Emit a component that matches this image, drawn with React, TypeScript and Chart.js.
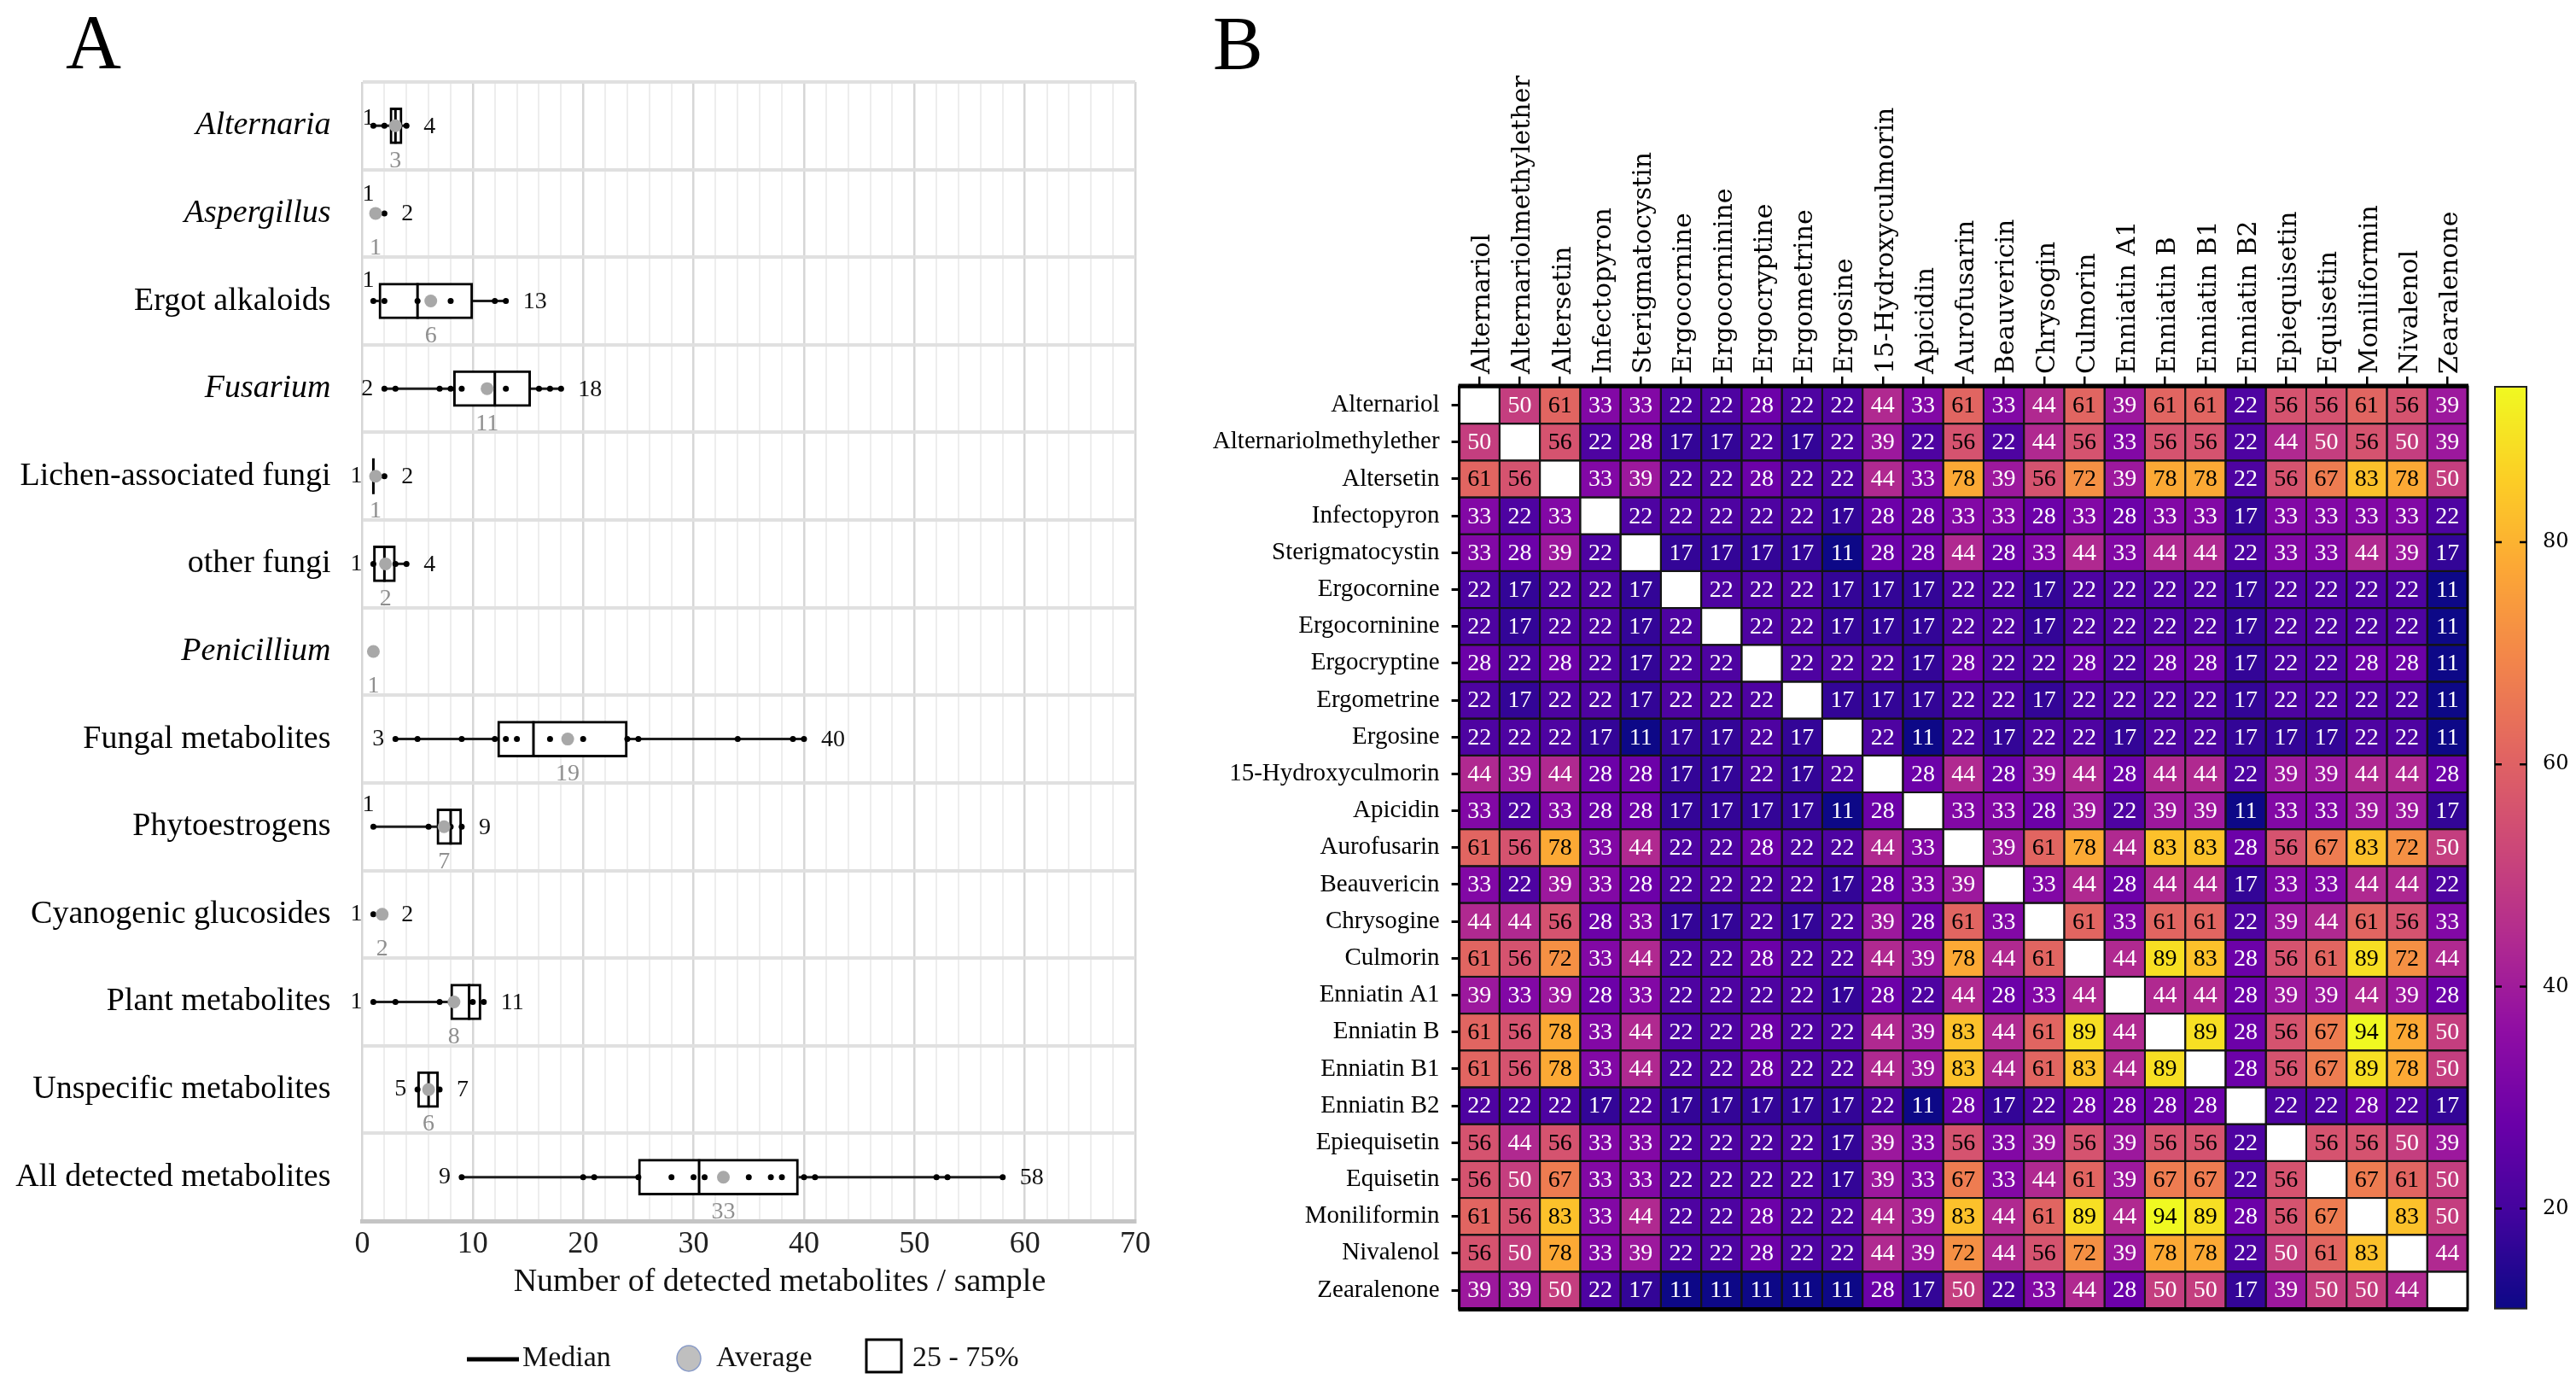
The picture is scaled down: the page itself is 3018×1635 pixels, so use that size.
import React, { useEffect, useRef } from 'react';
import { Chart, registerables } from 'chart.js';

Chart.register(...registerables);

// ---------------- Panel A data ----------------
const categories = [
  'Alternaria', 'Aspergillus', 'Ergot alkaloids', 'Fusarium', 'Lichen-associated fungi',
  'other fungi', 'Penicillium', 'Fungal metabolites', 'Phytoestrogens', 'Cyanogenic glucosides',
  'Plant metabolites', 'Unspecific metabolites', 'All detected metabolites',
];
const italicCategories = [true, true, false, true, false, false, true, false, false, false, false, false, false];
const minValues = [1, 1, 1, 2, 1, 1, 1, 3, 1, 1, 1, 5, 9];
const maxValues = [4, 2, 13, 18, 2, 4, 1, 40, 9, 2, 11, 7, 58];
const q1Values: (number | null)[] = [2.5, null, 1.5, 8.25, 1, 1, null, 12.25, 6.75, null, 8, 5, 25];
const medianValues: (number | null)[] = [3, null, 5, 12, 1, 2, null, 15.5, 8, null, 9.67, 6, 30.5];
const q3Values: (number | null)[] = [3.6, null, 10, 15.25, 1, 3, null, 24, 9, null, 10.75, 6.9, 39.5];
const averageValues = [3.0, 1.2, 6.2, 11.3, 1.2, 2.1, 1.0, 18.6, 7.4, 1.8, 8.3, 6.0, 32.7];
const sampleValues: number[][] = [
  [1, 2, 3, 4],
  [1, 2],
  [1, 2, 5, 8, 12, 13],
  [2, 3, 7, 8, 9, 13, 16, 17, 18],
  [1, 2],
  [1, 2, 3, 4],
  [1],
  [3, 5, 9, 12, 13, 14, 17, 20, 24, 25, 34, 39, 40],
  [1, 6, 7, 8, 9],
  [1, 2],
  [1, 3, 7, 8, 10, 11],
  [5, 6, 7],
  [9, 20, 21, 25, 28, 30, 31, 35, 37, 38, 40, 41, 52, 53, 58],
];
const showRangeLabels = [true, true, true, true, true, true, false, true, true, true, true, true, true];

// layout of the min labels (raised above the point or left of it)
const minLabelRaise = [9, 22, 24, 0, 0, 0, 0, 0, 26, 0, 0, 0, 0];

// ---------------- Panel B data ----------------
const rowLabels = [
  'Alternariol', 'Alternariolmethylether', 'Altersetin', 'Infectopyron', 'Sterigmatocystin',
  'Ergocornine', 'Ergocorninine', 'Ergocryptine', 'Ergometrine', 'Ergosine',
  '15-Hydroxyculmorin', 'Apicidin', 'Aurofusarin', 'Beauvericin', 'Chrysogine',
  'Culmorin', 'Enniatin A1', 'Enniatin B', 'Enniatin B1', 'Enniatin B2',
  'Epiequisetin', 'Equisetin', 'Moniliformin', 'Nivalenol', 'Zearalenone',
];
const colLabels = [
  'Alternariol', 'Alternariolmethylether', 'Altersetin', 'Infectopyron', 'Sterigmatocystin',
  'Ergocornine', 'Ergocorninine', 'Ergocryptine', 'Ergometrine', 'Ergosine',
  '15-Hydroxyculmorin', 'Apicidin', 'Aurofusarin', 'Beauvericin', 'Chrysogin',
  'Culmorin', 'Enniatin A1', 'Enniatin B', 'Enniatin B1', 'Enniatin B2',
  'Epiequisetin', 'Equisetin', 'Moniliformin', 'Nivalenol', 'Zearalenone',
];
const _ = null;
const cooccurrence: (number | null)[][] = [
  [_, 50, 61, 33, 33, 22, 22, 28, 22, 22, 44, 33, 61, 33, 44, 61, 39, 61, 61, 22, 56, 56, 61, 56, 39],
  [50, _, 56, 22, 28, 17, 17, 22, 17, 22, 39, 22, 56, 22, 44, 56, 33, 56, 56, 22, 44, 50, 56, 50, 39],
  [61, 56, _, 33, 39, 22, 22, 28, 22, 22, 44, 33, 78, 39, 56, 72, 39, 78, 78, 22, 56, 67, 83, 78, 50],
  [33, 22, 33, _, 22, 22, 22, 22, 22, 17, 28, 28, 33, 33, 28, 33, 28, 33, 33, 17, 33, 33, 33, 33, 22],
  [33, 28, 39, 22, _, 17, 17, 17, 17, 11, 28, 28, 44, 28, 33, 44, 33, 44, 44, 22, 33, 33, 44, 39, 17],
  [22, 17, 22, 22, 17, _, 22, 22, 22, 17, 17, 17, 22, 22, 17, 22, 22, 22, 22, 17, 22, 22, 22, 22, 11],
  [22, 17, 22, 22, 17, 22, _, 22, 22, 17, 17, 17, 22, 22, 17, 22, 22, 22, 22, 17, 22, 22, 22, 22, 11],
  [28, 22, 28, 22, 17, 22, 22, _, 22, 22, 22, 17, 28, 22, 22, 28, 22, 28, 28, 17, 22, 22, 28, 28, 11],
  [22, 17, 22, 22, 17, 22, 22, 22, _, 17, 17, 17, 22, 22, 17, 22, 22, 22, 22, 17, 22, 22, 22, 22, 11],
  [22, 22, 22, 17, 11, 17, 17, 22, 17, _, 22, 11, 22, 17, 22, 22, 17, 22, 22, 17, 17, 17, 22, 22, 11],
  [44, 39, 44, 28, 28, 17, 17, 22, 17, 22, _, 28, 44, 28, 39, 44, 28, 44, 44, 22, 39, 39, 44, 44, 28],
  [33, 22, 33, 28, 28, 17, 17, 17, 17, 11, 28, _, 33, 33, 28, 39, 22, 39, 39, 11, 33, 33, 39, 39, 17],
  [61, 56, 78, 33, 44, 22, 22, 28, 22, 22, 44, 33, _, 39, 61, 78, 44, 83, 83, 28, 56, 67, 83, 72, 50],
  [33, 22, 39, 33, 28, 22, 22, 22, 22, 17, 28, 33, 39, _, 33, 44, 28, 44, 44, 17, 33, 33, 44, 44, 22],
  [44, 44, 56, 28, 33, 17, 17, 22, 17, 22, 39, 28, 61, 33, _, 61, 33, 61, 61, 22, 39, 44, 61, 56, 33],
  [61, 56, 72, 33, 44, 22, 22, 28, 22, 22, 44, 39, 78, 44, 61, _, 44, 89, 83, 28, 56, 61, 89, 72, 44],
  [39, 33, 39, 28, 33, 22, 22, 22, 22, 17, 28, 22, 44, 28, 33, 44, _, 44, 44, 28, 39, 39, 44, 39, 28],
  [61, 56, 78, 33, 44, 22, 22, 28, 22, 22, 44, 39, 83, 44, 61, 89, 44, _, 89, 28, 56, 67, 94, 78, 50],
  [61, 56, 78, 33, 44, 22, 22, 28, 22, 22, 44, 39, 83, 44, 61, 83, 44, 89, _, 28, 56, 67, 89, 78, 50],
  [22, 22, 22, 17, 22, 17, 17, 17, 17, 17, 22, 11, 28, 17, 22, 28, 28, 28, 28, _, 22, 22, 28, 22, 17],
  [56, 44, 56, 33, 33, 22, 22, 22, 22, 17, 39, 33, 56, 33, 39, 56, 39, 56, 56, 22, _, 56, 56, 50, 39],
  [56, 50, 67, 33, 33, 22, 22, 22, 22, 17, 39, 33, 67, 33, 44, 61, 39, 67, 67, 22, 56, _, 67, 61, 50],
  [61, 56, 83, 33, 44, 22, 22, 28, 22, 22, 44, 39, 83, 44, 61, 89, 44, 94, 89, 28, 56, 67, _, 83, 50],
  [56, 50, 78, 33, 39, 22, 22, 28, 22, 22, 44, 39, 72, 44, 56, 72, 39, 78, 78, 22, 50, 61, 83, _, 44],
  [39, 39, 50, 22, 17, 11, 11, 11, 11, 11, 28, 17, 50, 22, 33, 44, 28, 50, 50, 17, 39, 50, 50, 44, _],
];

const allValues = cooccurrence.flat().filter((v) => v != null) as number[];
const colorMin = Math.min(...allValues);
const colorMax = Math.max(...allValues);

// plasma colour map
const PLASMA = ['#0d0887', '#41049d', '#6a00a8', '#8f0da4', '#b12a90', '#cc4778', '#e16462', '#f2844b', '#fca636', '#fcce25', '#f0f921'];
const hexToRgb = (h: string) => [parseInt(h.slice(1, 3), 16), parseInt(h.slice(3, 5), 16), parseInt(h.slice(5, 7), 16)];
const PLASMA_RGB = PLASMA.map(hexToRgb);
function plasma(v: number): string {
  let t = (v - colorMin) / (colorMax - colorMin);
  t = Math.max(0, Math.min(1, t));
  const s = t * (PLASMA_RGB.length - 1);
  const i = Math.min(PLASMA_RGB.length - 2, Math.floor(s));
  const f = s - i;
  const a = PLASMA_RGB[i], b = PLASMA_RGB[i + 1];
  const c = a.map((av, k) => Math.round(av + (b[k] - av) * f));
  return `rgb(${c[0]},${c[1]},${c[2]})`;
}

const SERIF = '"Liberation Serif", "Times New Roman", serif';
const WIDE_SERIF = '"DejaVu Serif", "Liberation Serif", serif';
const BOX_HALF = 21;

const boxPlugin = {
  id: 'boxExtras',
  beforeDatasetsDraw(chart: any) {
    const { ctx } = chart;
    const x = chart.scales.x, y = chart.scales.y;
    ctx.save();
    ctx.strokeStyle = '#1e1e1e';
    ctx.lineWidth = 3;
    categories.forEach((_c, i) => {
      const q1 = q1Values[i], q3 = q3Values[i];
      if (q1 == null || q3 == null) return;
      const py = y.getPixelForValue(i);
      ctx.beginPath();
      if (minValues[i] < q1) {
        ctx.moveTo(x.getPixelForValue(minValues[i]), py);
        ctx.lineTo(x.getPixelForValue(q1), py);
      }
      if (maxValues[i] > q3) {
        ctx.moveTo(x.getPixelForValue(q3), py);
        ctx.lineTo(x.getPixelForValue(maxValues[i]), py);
      }
      ctx.stroke();
    });
    ctx.restore();
  },
  afterDatasetDraw(chart: any, args: any) {
    if (args.index !== 0) return;
    const { ctx } = chart;
    const x = chart.scales.x, y = chart.scales.y;
    ctx.save();
    ctx.strokeStyle = '#000';
    ctx.lineWidth = 3;
    categories.forEach((_c, i) => {
      const m = medianValues[i];
      if (m == null) return;
      const px = x.getPixelForValue(m);
      const py = y.getPixelForValue(i);
      ctx.beginPath();
      ctx.moveTo(px, py - BOX_HALF);
      ctx.lineTo(px, py + BOX_HALF);
      ctx.stroke();
    });
    ctx.restore();
  },
  afterDraw(chart: any) {
    const { ctx, chartArea } = chart;
    const x = chart.scales.x, y = chart.scales.y;
    ctx.save();
    // value labels
    ctx.font = `28px ${SERIF}`;
    ctx.textBaseline = 'middle';
    categories.forEach((_c, i) => {
      const py = y.getPixelForValue(i);
      if (showRangeLabels[i]) {
        ctx.fillStyle = '#111';
        const pmin = x.getPixelForValue(minValues[i]);
        if (minLabelRaise[i] > 0) {
          ctx.textAlign = 'center';
          ctx.fillText(String(minValues[i]), pmin - 6, py - minLabelRaise[i]);
        } else {
          ctx.textAlign = 'right';
          ctx.fillText(String(minValues[i]), pmin - 13, py);
        }
        ctx.textAlign = 'left';
        ctx.fillText(String(maxValues[i]), x.getPixelForValue(maxValues[i]) + 20, py + 1);
      }
      ctx.fillStyle = '#8f8f8f';
      ctx.textAlign = 'center';
      ctx.fillText(String(Math.round(averageValues[i])), x.getPixelForValue(averageValues[i]), py + 41);
    });

    // panel letter
    ctx.fillStyle = '#000';
    ctx.textAlign = 'left';
    ctx.textBaseline = 'alphabetic';
    ctx.font = `90px ${SERIF}`;
    ctx.fillText('A', 77, 80);

    // axis title
    ctx.font = `38px ${SERIF}`;
    ctx.textAlign = 'center';
    ctx.textBaseline = 'middle';
    ctx.fillStyle = '#111';
    ctx.fillText('Number of detected metabolites / sample', chartArea.left + 0.54 * (chartArea.right - chartArea.left), 1502);

    // legend
    const ly = 1591;
    ctx.font = `34px ${SERIF}`;
    ctx.textAlign = 'left';
    ctx.strokeStyle = '#000';
    ctx.lineWidth = 5;
    ctx.beginPath();
    ctx.moveTo(547, ly + 1);
    ctx.lineTo(608, ly + 1);
    ctx.stroke();
    ctx.fillText('Median', 612, ly);
    ctx.beginPath();
    ctx.ellipse(807, ly, 14, 15, 0, 0, Math.PI * 2);
    ctx.fillStyle = '#bfbfbf';
    ctx.fill();
    ctx.strokeStyle = '#8a9cc8';
    ctx.lineWidth = 1.5;
    ctx.stroke();
    ctx.fillStyle = '#111';
    ctx.fillText('Average', 839, ly);
    ctx.strokeStyle = '#000';
    ctx.lineWidth = 3;
    ctx.strokeRect(1015, 1569, 41, 38);
    ctx.fillText('25 - 75%', 1069, ly);
    ctx.restore();
  },
};

const heatPlugin = {
  id: 'heatCells',
  afterDatasetsDraw(chart: any) {
    const { ctx, chartArea: a } = chart;
    const xs = chart.scales.x, ys = chart.scales.y;
    const cw = Math.abs(xs.getPixelForValue(1) - xs.getPixelForValue(0));
    const ch = Math.abs(ys.getPixelForValue(1) - ys.getPixelForValue(0));
    const meta = chart.getDatasetMeta(0);
    const data = chart.data.datasets[0].data as any[];
    ctx.save();
    meta.data.forEach((el: any, k: number) => {
      const v = data[k].v;
      ctx.fillStyle = v == null ? '#ffffff' : plasma(v);
      ctx.fillRect(el.x - cw / 2, el.y - ch / 2, cw, ch);
    });
    ctx.strokeStyle = '#141414';
    ctx.lineWidth = 2;
    meta.data.forEach((el: any) => {
      ctx.strokeRect(el.x - cw / 2, el.y - ch / 2, cw, ch);
    });
    ctx.font = `28px ${SERIF}`;
    ctx.textAlign = 'center';
    ctx.textBaseline = 'middle';
    meta.data.forEach((el: any, k: number) => {
      const v = data[k].v;
      if (v == null) return;
      ctx.fillStyle = v >= 55 ? '#000' : '#fff';
      ctx.fillText(String(v), el.x, el.y + 1);
    });
    // frame
    ctx.strokeStyle = '#000';
    ctx.lineWidth = 3;
    ctx.strokeRect(a.left, a.top, a.right - a.left, a.bottom - a.top);
    ctx.lineWidth = 5;
    ctx.beginPath();
    ctx.moveTo(a.left - 1, a.top - 1);
    ctx.lineTo(a.right + 1, a.top - 1);
    ctx.moveTo(a.left - 1, a.bottom + 1);
    ctx.lineTo(a.right + 1, a.bottom + 1);
    ctx.stroke();
    ctx.restore();
  },
  afterDraw(chart: any) {
    const { ctx } = chart;
    const cb = chart.scales.cb;
    ctx.save();
    const x0 = cb.left + 32;
    const w = 37;
    for (let py = Math.floor(cb.top); py < cb.bottom; py++) {
      ctx.fillStyle = plasma(cb.getValueForPixel(py + 0.5));
      ctx.fillRect(x0, py, w, 1);
    }
    ctx.strokeStyle = '#222';
    ctx.lineWidth = 2;
    ctx.strokeRect(x0, cb.top, w, cb.bottom - cb.top);
    ctx.strokeStyle = '#000';
    ctx.lineWidth = 2.5;
    cb.ticks.forEach((t: any) => {
      const py = cb.getPixelForValue(t.value);
      ctx.beginPath();
      ctx.moveTo(x0, py);
      ctx.lineTo(x0 + 8, py);
      ctx.moveTo(x0 + w - 8, py);
      ctx.lineTo(x0 + w, py);
      ctx.stroke();
    });
    ctx.fillStyle = '#000';
    ctx.font = `88px ${SERIF}`;
    ctx.textAlign = 'left';
    ctx.textBaseline = 'alphabetic';
    ctx.fillText('B', 21, 80);
    ctx.restore();
  },
};

export default function App() {
  const refA = useRef<HTMLCanvasElement>(null);
  const refB = useRef<HTMLCanvasElement>(null);

  useEffect(() => {
    Chart.defaults.font.family = SERIF;
    const boxData = categories.map((_c, i) => (q1Values[i] == null || q3Values[i] == null || q1Values[i] === q3Values[i] ? null : [q1Values[i], q3Values[i]]));
    const pointData = sampleValues.flatMap((pts, i) => pts.map((v) => ({ x: v, y: categories[i] })));
    const avgData = averageValues.map((v, i) => ({ x: v, y: categories[i] }));

    const chartA = new Chart(refA.current as HTMLCanvasElement, {
      type: 'bar',
      data: {
        labels: categories,
        datasets: [
          {
            type: 'bar',
            label: '25 - 75%',
            data: boxData as any,
            backgroundColor: '#ffffff',
            borderColor: '#000000',
            borderWidth: 3,
            borderSkipped: false,
            barThickness: BOX_HALF * 2,
            order: 3,
          } as any,
          {
            type: 'scatter',
            label: 'Samples',
            data: pointData as any,
            pointRadius: 3.5,
            pointBackgroundColor: '#000',
            pointBorderColor: '#000',
            pointBorderWidth: 0,
            order: 2,
          } as any,
          {
            type: 'scatter',
            label: 'Average',
            data: avgData as any,
            pointRadius: 7.5,
            pointBackgroundColor: '#a8a8a8',
            pointBorderColor: '#a8a8a8',
            pointBorderWidth: 0,
            order: 1,
          } as any,
        ],
      },
      options: {
        indexAxis: 'y',
        animation: false,
        responsive: false,
        devicePixelRatio: 1,
        layout: { padding: { top: 96, right: 70, bottom: 0, left: 0 } },
        plugins: { legend: { display: false }, tooltip: { enabled: false } },
        scales: {
          x: {
            type: 'linear',
            position: 'bottom',
            min: 0,
            max: 70,
            ticks: {
              stepSize: 2,
              autoSkip: false,
              maxRotation: 0,
              padding: 6,
              color: '#222',
              font: { family: SERIF, size: 36 },
              callback: (v: any) => (Number(v) % 10 === 0 ? String(v) : ''),
            },
            grid: {
              color: (c: any) => (c.tick && c.tick.value % 10 === 0 ? '#d6d6d6' : '#ededed'),
              lineWidth: (c: any) => (c.tick && c.tick.value % 10 === 0 ? 2.5 : 2),
              drawTicks: false,
            },
            border: { display: true, color: '#c4c4c4', width: 5 },
            afterFit: (s: any) => { s.height = 205; },
          } as any,
          y: {
            type: 'category',
            position: 'left',
            offset: true,
            grid: { offset: true, color: '#e0e0e0', lineWidth: 4, drawTicks: false },
            border: { display: false },
            ticks: {
              padding: 37,
              color: '#000',
              font: (c: any) => ({ family: SERIF, size: 38, style: italicCategories[c.index] ? 'italic' : 'normal' }),
            },
            afterFit: (s: any) => { s.width = 424.5; },
          } as any,
        },
      },
      plugins: [boxPlugin],
    });

    const cellData = cooccurrence.flatMap((row, i) => row.map((v, j) => ({ x: colLabels[j], y: rowLabels[i], v })));
    const chartB = new Chart(refB.current as HTMLCanvasElement, {
      type: 'scatter',
      data: {
        datasets: [
          {
            label: 'Co-occurrence (%)',
            data: cellData as any,
            pointRadius: 0,
            pointHoverRadius: 0,
            pointHitRadius: 0,
          } as any,
        ],
      },
      options: {
        animation: false,
        responsive: false,
        devicePixelRatio: 1,
        layout: { padding: { top: 0, left: 0, right: 0, bottom: 23 } },
        plugins: { legend: { display: false }, tooltip: { enabled: false } },
        scales: {
          x: {
            type: 'category',
            labels: colLabels,
            position: 'top',
            offset: true,
            grid: { display: true, drawOnChartArea: false, drawTicks: true, tickLength: 12, color: '#000', lineWidth: 2.5, offset: false },
            border: { display: false },
            ticks: {
              autoSkip: false,
              minRotation: 90,
              maxRotation: 90,
              padding: 3,
              labelOffset: 40,
              color: '#000',
              font: { family: WIDE_SERIF, size: 30 },
            },
            afterFit: (s: any) => { s.height = 453; },
          } as any,
          y: {
            type: 'category',
            labels: rowLabels,
            position: 'left',
            offset: true,
            grid: { display: true, drawOnChartArea: false, drawTicks: true, tickLength: 9, color: '#000', lineWidth: 3, offset: false },
            border: { display: false },
            ticks: { autoSkip: false, padding: 14, color: '#000', font: { family: SERIF, size: 29 } },
            afterFit: (s: any) => { s.width = 309.6; },
          } as any,
          cb: {
            type: 'linear',
            position: 'right',
            min: colorMin,
            max: colorMax,
            grid: { display: false, drawTicks: false },
            border: { display: false },
            ticks: { stepSize: 20, includeBounds: false, padding: 88, color: '#000', font: { family: WIDE_SERIF, size: 24 } },
            afterFit: (s: any) => { s.width = 127; },
          } as any,
        },
      },
      plugins: [heatPlugin],
    });

    return () => {
      chartA.destroy();
      chartB.destroy();
    };
  }, []);

  return (
    <div style={{ position: 'absolute', left: 0, top: 0, width: 3018, height: 1635, background: '#fff', overflow: 'hidden' }}>
      <canvas ref={refA} width={1400} height={1635} style={{ position: 'absolute', left: 0, top: 0 }} />
      <canvas ref={refB} width={1618} height={1635} style={{ position: 'absolute', left: 1400, top: 0 }} />
    </div>
  );
}
